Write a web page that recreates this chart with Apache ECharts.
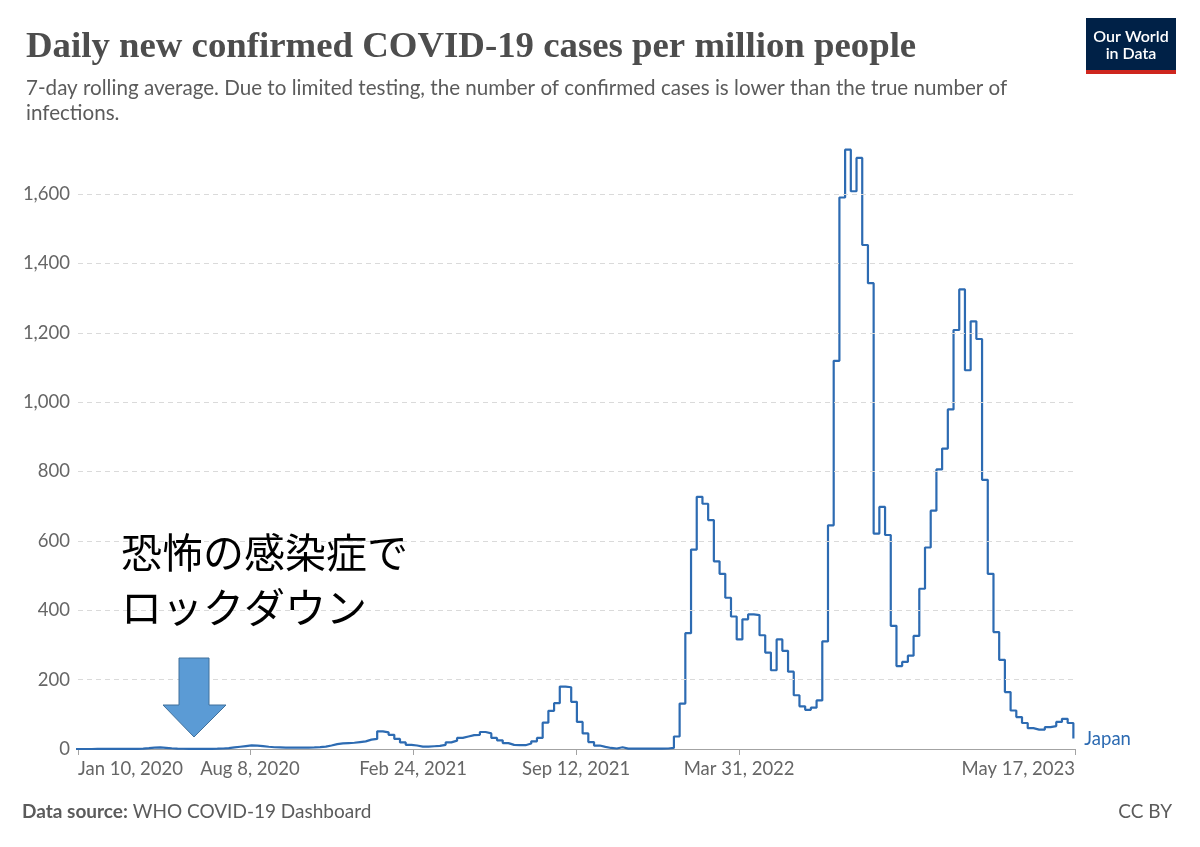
<!DOCTYPE html>
<html>
<head>
<meta charset="utf-8">
<script src="https://cdn.jsdelivr.net/npm/echarts@6/dist/echarts.min.js"></script>
<style>
  html, body { margin: 0; padding: 0; background: #fff; }
  #chart { width: 1200px; height: 847px; }
</style>
</head>
<body>
<div id="chart"></div>
<script>
// weekly WHO figures for Japan, first week starting 2020-01-06
const firstWeek = [2020, 0, 6];
const japanCases = [
  0, 0, 0, 0.1, 0.1, 0.1, 0.2, 0.3, 0.4, 0.5,
  0.6, 1.2, 2.5, 4, 4.5, 3.5, 2.2, 1.3, 0.7, 0.4,
  0.3, 0.3, 0.4, 0.5, 0.8, 1.5, 2.5, 4.5, 6.5, 8.5,
  10.5, 10, 8.5, 6.5, 5, 4.5, 4, 4, 3.8, 4,
  4.2, 4.5, 5.5, 7, 10, 14, 16, 17, 18, 20,
  22, 27, 29, 51, 48, 41, 29, 19, 12, 10,
  7, 7, 8, 9, 12, 19, 24, 32, 36, 40,
  41, 49, 45, 32, 25, 17, 12, 11, 11, 16,
  22, 32, 76, 110, 132, 180, 178, 136, 78, 45,
  20, 10, 6, 3, 1.5, 5, 1, 1, 0.8, 0.8,
  0.8, 0.8, 1, 1.5, 3,
  36, 131, 334, 575, 727,
  707, 660, 541, 505, 436, 382, 316, 374, 388, 386,
  328, 278, 227, 316, 283, 223, 155, 123, 113, 119,
  140, 310, 645, 1119, 1590, 1728, 1608, 1704, 1453, 1343,
  621, 698, 617, 355, 239, 251, 269, 326, 462, 581,
  687, 806, 866, 979, 1208, 1325, 1092, 1233, 1182, 776,
  505, 337, 257, 164, 111, 92, 75, 60, 56, 56,
  63, 66, 78, 87, 75, 30
];
const xTickDates = ['2020-01-10', '2020-08-08', '2021-02-24', '2021-09-12', '2022-03-31', '2023-05-17'];
const yTicks = [0, 200, 400, 600, 800, 1000, 1200, 1400, 1600];
const seriesName = 'Japan';

const MONTHS = ['Jan', 'Feb', 'Mar', 'Apr', 'May', 'Jun', 'Jul', 'Aug', 'Sep', 'Oct', 'Nov', 'Dec'];
function toTime(s) {
  const p = s.split('-').map(Number);
  return new Date(p[0], p[1] - 1, p[2]).getTime();
}
function fmtDate(v) {
  const d = new Date(v);
  return MONTHS[d.getMonth()] + ' ' + d.getDate() + ', ' + d.getFullYear();
}

const weekDates = japanCases.map((_, i) =>
  new Date(firstWeek[0], firstWeek[1], firstWeek[2] + 7 * i).getTime());
const xTicks = xTickDates.map(toTime);

const chart = echarts.init(document.getElementById('chart'));
const font = 'Lato, "Noto Sans", sans-serif';

chart.setOption({
  animation: false,
  title: [{
    text: 'Daily new confirmed COVID-19 cases per million people',
    left: 21, top: 24,
    textStyle: { fontFamily: '"Liberation Serif", "DejaVu Serif", serif', fontSize: 36.8, fontWeight: 'bold', color: '#4d4d4d' }
  }, {
    text: '7-day rolling average. Due to limited testing, the number of confirmed cases is lower than the true number of\ninfections.',
    left: 21, top: 71,
    textStyle: { fontFamily: font, fontSize: 20.6, fontWeight: 'normal', color: '#5b5b5b', lineHeight: 25 }
  }],
  grid: { left: 78, right: 125, top: 142, bottom: 98 },
  xAxis: {
    type: 'value',
    min: xTicks[0],
    max: xTicks[xTicks.length - 1],
    axisLine: { lineStyle: { color: '#a3a3a3', width: 1 } },
    axisTick: { customValues: xTicks, length: 6, lineStyle: { color: '#a3a3a3' } },
    axisLabel: {
      customValues: xTicks,
      formatter: fmtDate,
      fontFamily: font, fontSize: 18.5, color: '#666', margin: 11,
      alignMinLabel: 'left', alignMaxLabel: 'right'
    },
    splitLine: { show: false }
  },
  yAxis: {
    type: 'value',
    min: 0, max: 1750,
    axisLine: { show: false },
    axisTick: { show: false },
    axisLabel: {
      customValues: yTicks,
      formatter: v => v.toLocaleString('en-US'),
      fontFamily: font, fontSize: 18.5, color: '#666', margin: 8
    },
    splitLine: { show: false }
  },
  series: [{
    type: 'line',
    name: 'grid',
    data: [],
    silent: true,
    z: 1,
    markLine: {
      silent: true,
      symbol: 'none',
      label: { show: false },
      lineStyle: { color: '#dadada', type: [5, 4], width: 1 },
      data: yTicks.filter(v => v > 0).map(v => ({ yAxis: v }))
    }
  }, {
    type: 'line',
    name: seriesName,
    step: 'end',
    z: 3,
    showSymbol: false,
    data: weekDates.map((d, i) => [d, japanCases[i]]),
    lineStyle: { color: '#2d6bb2', width: 2.2 },
    itemStyle: { color: '#2d6bb2' },
    endLabel: {
      show: true,
      formatter: seriesName,
      fontFamily: font, fontSize: 18.5, color: '#2d6bb2', offset: [3, 0]
    }
  }],
  graphic: [
    // OWID logo
    { type: 'rect', x: 1086, y: 18, shape: { width: 90, height: 53 }, style: { fill: '#002147' } },
    { type: 'rect', x: 1086, y: 70, shape: { width: 90, height: 4 }, style: { fill: '#ce261e' } },
    { type: 'text', x: 1131, y: 28, style: { text: 'Our World\nin Data', fill: '#fff', font: '600 16px ' + font, align: 'center', lineHeight: 17 } },
    // annotation
    { type: 'text', x: 121, y: 525, z: 100, style: { text: '恐怖の感染症で\nロックダウン', fill: '#000', font: '41px "Noto Sans CJK JP"', lineHeight: 55 } },
    { type: 'polygon', z: 100, shape: { points: [[179, 658], [209, 658], [209, 705], [226, 705], [194, 737], [163, 705], [179, 705]] },
      style: { fill: '#5b9bd5', stroke: '#41719c', lineWidth: 1 } },
    // footer
    { type: 'text', x: 22, y: 802, style: { text: '{b|Data source:} WHO COVID-19 Dashboard', fill: '#5b5b5b', font: '19px ' + font,
      rich: { b: { fontWeight: 'bold', fontFamily: font, fontSize: 19, fill: '#5b5b5b' } } } },
    { type: 'text', x: 1172, y: 802, style: { text: 'CC BY', fill: '#5b5b5b', font: '19px ' + font, align: 'right' } }
  ]
});
</script>
</body>
</html>
